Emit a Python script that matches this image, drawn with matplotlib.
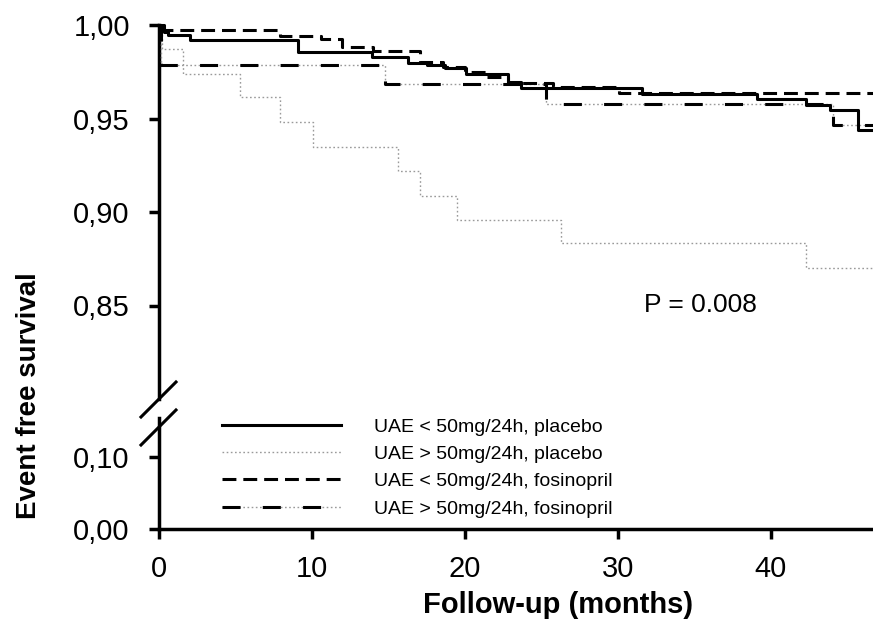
import numpy as np
import matplotlib
matplotlib.use("Agg")
import matplotlib.pyplot as plt
from matplotlib.lines import Line2D
from matplotlib.legend_handler import HandlerTuple

plt.rcParams["font.family"] = ["Liberation Sans", "DejaVu Sans"]
plt.rcParams["lines.scale_dashes"] = False

# Kaplan-Meier step data (months, event free survival)
t_lo_plac = [0, 0.3, 0.6, 2.0, 9.1, 13.9, 16.3, 17.5, 18.7, 20.1, 22.8, 23.7,
             31.6, 39.1, 42.3, 43.9, 45.7, 46.7]
s_lo_plac = [1.0, 0.9965, 0.9945, 0.992, 0.9857, 0.983, 0.9795, 0.9786, 0.9768,
             0.9736, 0.9697, 0.9661, 0.9631, 0.9603, 0.9572, 0.9545, 0.944, 0.944]

t_hi_plac = [0, 0.2, 1.6, 5.3, 7.9, 10.1, 15.6, 17.1, 19.5, 26.3, 42.3, 46.7]
s_hi_plac = [1.0, 0.987, 0.9736, 0.9617, 0.9483, 0.9349, 0.9219, 0.9087, 0.8957,
             0.8833, 0.8699, 0.8699]

t_lo_fos = [0, 7.9, 10.6, 12.0, 14.0, 17.1, 18.6, 20.0, 21.4, 22.8, 25.8, 30.1, 46.7]
s_lo_fos = [0.9975, 0.9943, 0.9925, 0.9884, 0.9861, 0.9804, 0.9774, 0.9747,
            0.9724, 0.9688, 0.967, 0.9635, 0.9635]

t_hi_fos = [0, 0.1, 14.8, 25.3, 44.1, 46.7]
s_hi_fos = [1.0, 0.9786, 0.9683, 0.9576, 0.9465, 0.9465]

labels = ["UAE < 50mg/24h, placebo", "UAE > 50mg/24h, placebo",
          "UAE < 50mg/24h, fosinopril", "UAE > 50mg/24h, fosinopril"]

top_ticks = [0.85, 0.90, 0.95, 1.00]
top_ticklabels = ["0,85", "0,90", "0,95", "1,00"]
bot_ticks = [0.0, 0.10]
bot_ticklabels = ["0,00", "0,10"]
x_ticks = [0, 10, 20, 30, 40]

W, H = 873, 623
fig = plt.figure(figsize=(W / 100, H / 100), dpi=100)

x0, x1 = 159, 873
ax_top = fig.add_axes([x0 / W, 1 - 399 / H, (x1 - x0) / W, (399 - 25) / H])
ax_bot = fig.add_axes([x0 / W, 1 - 529 / H, (x1 - x0) / W, (529 - 418) / H])

lw_axis = 2.5
tick_fs = 21
for ax in (ax_top, ax_bot):
    ax.set_xlim(0, 46.7)
    ax.patch.set_alpha(0)
    for s in ("top", "right"):
        ax.spines[s].set_visible(False)
    ax.spines["left"].set_linewidth(lw_axis)
    ax.spines["bottom"].set_linewidth(lw_axis)
    ax.tick_params(width=lw_axis, length=7, labelsize=tick_fs, pad=14)

ax_top.spines["bottom"].set_visible(False)
ax_top.set_xticks([])
ax_top.set_ylim(0.80, 1.00)
ax_top.set_yticks(top_ticks)
ax_top.set_yticklabels(top_ticklabels)

ax_bot.set_ylim(0, 0.154)
ax_bot.set_yticks(bot_ticks)
ax_bot.set_yticklabels(bot_ticklabels)
ax_bot.set_xticks(x_ticks)
ax_bot.set_xticklabels([str(v) for v in x_ticks])
ax_bot.tick_params(axis="x", pad=12)

# curves
lw = 2.2
h1, = ax_top.step(t_lo_plac, s_lo_plac, where="post", color="black", lw=lw,
                  clip_on=False, zorder=4)
h2, = ax_top.step(t_hi_plac, s_hi_plac, where="post", color="#9a9a9a", lw=1.0,
                  ls=(0, (1.2, 1.8)), clip_on=False, zorder=3)
h3, = ax_top.step(t_lo_fos, s_lo_fos, where="post", color="black", lw=lw,
                  ls=(0, (10, 5)), clip_on=False, zorder=4)
h4a, = ax_top.step(t_hi_fos, s_hi_fos, where="post", color="#9a9a9a", lw=1.0,
                   ls=(0, (1.2, 1.8)), clip_on=False, zorder=3)
h4b, = ax_top.step(t_hi_fos, s_hi_fos, where="post", color="black", lw=lw,
                   ls=(0, (13, 16)), clip_on=False, zorder=4)

ax_top.text(35.4, 0.85, "P = 0.008", fontsize=19, ha="center", va="center")

fig.legend([h1, h2, h3, (h4a, h4b)], labels,
           handler_map={tuple: HandlerTuple(ndivide=1)},
           loc="upper left", bbox_to_anchor=(222 / W, 1 - 418 / H),
           frameon=False, fontsize=14, handlelength=6.1, handletextpad=1.7,
           labelspacing=0.5, borderpad=0, borderaxespad=0)

# axis break marks
for yc in (399, 427):
    fig.add_artist(Line2D([(x0 - 18) / W, (x0 + 17) / W],
                          [1 - (yc + 18) / H, 1 - (yc - 17) / H],
                          transform=fig.transFigure, color="black", lw=2.2))

fig.text(29 / W, 1 - 396 / H, "Event free survival", rotation=90,
         fontsize=20, fontweight="bold", ha="center", va="center")
fig.text(558 / W, 1 - 605 / H, "Follow-up (months)",
         fontsize=21, fontweight="bold", ha="center", va="center")

fig.savefig("out.png", dpi=100)
